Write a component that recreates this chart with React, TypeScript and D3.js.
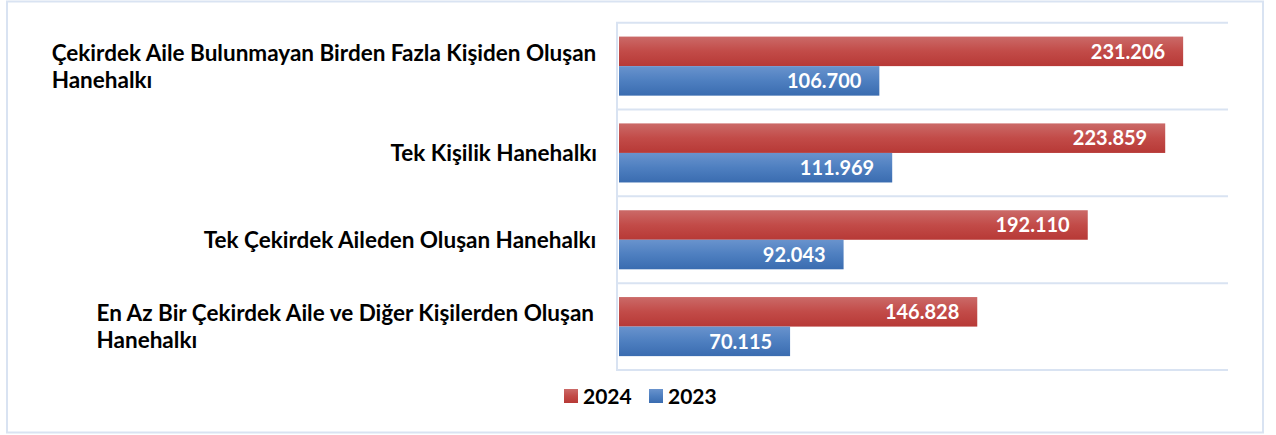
import React from "react";
import * as d3 from "d3";

const categories = [
  "Çekirdek Aile Bulunmayan Birden Fazla Kişiden Oluşan Hanehalkı",
  "Tek Kişilik Hanehalkı",
  "Tek Çekirdek Aileden Oluşan Hanehalkı",
  "En Az Bir Çekirdek Aile ve Diğer Kişilerden Oluşan Hanehalkı",
];
const values2024 = [231206, 223859, 192110, 146828];
const values2023 = [106700, 111969, 92043, 70115];
const seriesNames = ["2024", "2023"];
const xMax = 250000;

const W = 1276;
const H = 435;
const FONT = "Lato, 'Open Sans', sans-serif";
const LABEL_SIZE = 22.5;

const trLocale = d3.formatLocale({ decimal: ",", thousands: ".", grouping: [3], currency: ["₺", ""] });
const fmt = trLocale.format(",d");

function measure(text: string, size: number) {
  const c = document.createElement("canvas").getContext("2d");
  if (!c) return text.length * size * 0.53;
  c.font = `bold ${size}px ${FONT}`;
  return c.measureText(text).width;
}

function wrap(text: string, maxW: number, size: number) {
  const words = text.split(" ");
  const lines: string[] = [];
  let cur = "";
  for (const w of words) {
    const t = cur ? cur + " " + w : w;
    if (cur && measure(t, size) > maxW) {
      lines.push(cur);
      cur = w;
    } else cur = t;
  }
  if (cur) lines.push(cur);
  return lines;
}

export default function App() {
  const plotLeft = 619;
  const plotRight = 1229;
  const plotTop = 22.7;
  const plotBottom = 370;

  const x = d3.scaleLinear().domain([0, xMax]).range([plotLeft, plotRight]);
  const y = d3.scaleBand<string>().domain(categories).range([plotTop, plotBottom]).paddingInner(0).paddingOuter(0);
  const inner = d3
    .scaleBand<string>()
    .domain(seriesNames)
    .range([0, y.bandwidth()])
    .paddingOuter(0.47)
    .paddingInner(0);

  const series = [
    { name: "2024", values: values2024, grad: "gRed" },
    { name: "2023", values: values2023, grad: "gBlue" },
  ];

  const gridColor = "#d9e3f2";
  const labelRight = 597;

  return (
    <svg
      width={W}
      height={H}
      style={{ position: "absolute", left: 0, top: 0, fontFamily: FONT }}
    >
      <defs>
        <linearGradient id="gRed" x1="0" y1="0" x2="0" y2="1">
          <stop offset="0" stopColor="#cb6a68" />
          <stop offset="0.5" stopColor="#c24b48" />
          <stop offset="1" stopColor="#b73936" />
        </linearGradient>
        <linearGradient id="gBlue" x1="0" y1="0" x2="0" y2="1">
          <stop offset="0" stopColor="#6993cd" />
          <stop offset="0.5" stopColor="#4e7fc0" />
          <stop offset="1" stopColor="#3a6cb0" />
        </linearGradient>
      </defs>
      <rect x={7} y={1.5} width={1256} height={431} fill="#fff" stroke={gridColor} strokeWidth={2} />

      {/* gridlines */}
      {[...categories.map((c) => y(c) as number), plotBottom].map((gy, i) => (
        <line key={i} x1={plotLeft - 3} x2={plotRight - 1} y1={gy} y2={gy} stroke={gridColor} strokeWidth={2} />
      ))}
      <line x1={plotLeft - 2} x2={plotLeft - 2} y1={plotTop} y2={plotBottom} stroke={gridColor} strokeWidth={2} />

      {/* bars */}
      {series.map((s) =>
        categories.map((c, i) => {
          const by = (y(c) as number) + (inner(s.name) as number);
          const bh = inner.bandwidth();
          const bx = x(0);
          const bw = x(s.values[i]) - x(0);
          return (
            <g key={s.name + i}>
              <rect x={bx} y={by} width={bw} height={bh} fill={`url(#${s.grad})`} />
              <text
                x={x(s.values[i]) - 18}
                y={by + bh / 2}
                dy="0.36em"
                textAnchor="end"
                fill="#fff"
                fontWeight="bold"
                fontSize={20}
              >
                {fmt(s.values[i])}
              </text>
            </g>
          );
        })
      )}

      {/* category labels */}
      {categories.map((c) => {
        const lines = wrap(c, 570, LABEL_SIZE);
        const maxW = Math.max(...lines.map((l) => measure(l, LABEL_SIZE)));
        const cy = (y(c) as number) + y.bandwidth() / 2;
        const lh = 27;
        const startX = labelRight - maxW;
        return (
          <text key={c} fontWeight="bold" fontSize={LABEL_SIZE} fill="#000">
            {lines.map((l, j) => (
              <tspan key={j} x={startX} y={cy + (j - (lines.length - 1) / 2) * lh} dy="0.36em">
                {l}
              </tspan>
            ))}
          </text>
        );
      })}

      {/* legend */}
      {series.map((s, i) => {
        const lx = 564 + i * 85;
        return (
          <g key={s.name}>
            <rect x={lx} y={389} width={14} height={14} fill={`url(#${s.grad})`} />
            <text x={lx + 19} y={396} dy="0.36em" fontWeight="bold" fontSize={21} fill="#000">
              {s.name}
            </text>
          </g>
        );
      })}
    </svg>
  );
}
